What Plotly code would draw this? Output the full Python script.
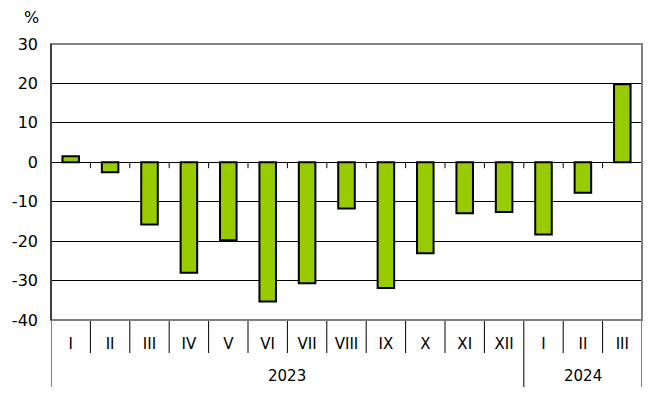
import plotly.graph_objects as go

months = ["I", "II", "III", "IV", "V", "VI", "VII", "VIII", "IX", "X", "XI", "XII", "I", "II", "III"]
years = ["2023", "2024"]
year_counts = [12, 3]
values = [1.5, -2.5, -15.8, -28.0, -19.8, -35.3, -30.7, -11.7, -31.9, -23.1, -12.9, -12.6, -18.3, -7.7, 19.8]
y_ticks = [-40, -30, -20, -10, 0, 10, 20, 30]
y_tick_labels = ["-40", "-30", "-20", "-10", "0", "10", "20", "30"]

W, H = 648, 393
ML, MR, MT, MB = 51, 6, 44, 73
PH = H - MT - MB
n = len(months)
xpos = [i + 0.5 for i in range(n)]

fig = go.Figure()
fig.add_trace(go.Bar(
    x=xpos, y=values, width=0.42,
    marker=dict(color="#99CC00", line=dict(color="black", width=2)),
    hoverinfo="skip",
))

font = "DejaVu Sans, Verdana, sans-serif"

def py(px):
    return (H - MB - px) / PH

shapes = []
# zero-line tick marks
for k in range(1, n):
    shapes.append(dict(type="line", xref="x", yref="y", x0=k, x1=k, y0=0, y1=-1.5,
                       line=dict(color="black", width=1)))
# separators below axis
bounds = [0]
acc = 0
for c in year_counts:
    acc += c
    bounds.append(acc)
for k in range(0, n + 1):
    long = k in bounds
    shapes.append(dict(type="line", xref="x", yref="paper", x0=k, x1=k, y0=0,
                       y1=py(387 if long else 353), line=dict(color="black", width=1)))
# frame
shapes.append(dict(type="rect", xref="paper", yref="paper", x0=0, x1=1, y0=0, y1=1,
                   line=dict(color="#808080", width=2), layer="above"))
shapes.append(dict(type="line", xref="paper", yref="paper", x0=0, x1=0, y0=0, y1=1,
                   line=dict(color="black", width=1), layer="above"))

annotations = []
start = 0
for yr, c in zip(years, year_counts):
    annotations.append(dict(x=start + c / 2, y=py(376), xref="x", yref="paper", text=yr,
                            showarrow=False, font=dict(family=font, size=15, color="black"),
                            xanchor="center", yanchor="middle"))
    start += c
annotations.append(dict(x=(31 - ML) / (W - ML - MR), y=py(17), xref="paper", yref="paper",
                        text="%", showarrow=False, font=dict(family=font, size=16, color="black"),
                        xanchor="center", yanchor="middle"))

fig.update_layout(
    width=W, height=H, margin=dict(l=ML, r=MR, t=MT, b=MB, autoexpand=False),
    paper_bgcolor="white", plot_bgcolor="white", showlegend=False,
    shapes=shapes, annotations=annotations,
    xaxis=dict(range=[0, n], tickvals=xpos, ticktext=months, showgrid=False, zeroline=False,
               showline=False, ticks="", ticklabelstandoff=13, automargin=False,
               tickfont=dict(family=font, size=15, color="black")),
    yaxis=dict(range=[-40, 30], tickvals=y_ticks, ticktext=y_tick_labels, showgrid=True,
               gridcolor="black", gridwidth=1,
               zeroline=True, zerolinecolor="black", zerolinewidth=1, showline=False,
               ticks="", ticklabelstandoff=12, automargin=False,
               tickfont=dict(family=font, size=16, color="black")),
)

fig.write_html("out.html", config={"displayModeBar": False},
               post_script="document.body.style.margin='0';document.body.style.overflow='hidden';")
